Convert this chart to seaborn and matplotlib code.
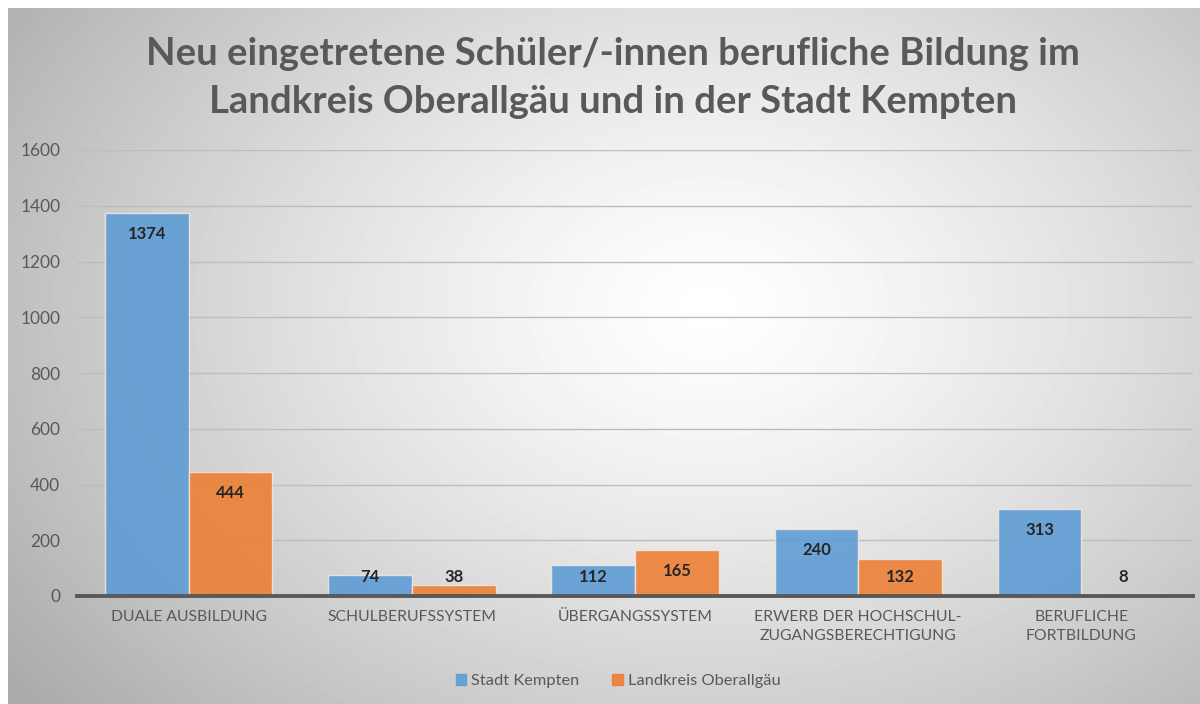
import numpy as np
import pandas as pd
import matplotlib
matplotlib.use("Agg")
import matplotlib.pyplot as plt
import seaborn as sns

categories = ["DUALE AUSBILDUNG", "SCHULBERUFSSYSTEM", "ÜBERGANGSSYSTEM",
              "ERWERB DER HOCHSCHUL-\nZUGANGSBERECHTIGUNG", "BERUFLICHE\nFORTBILDUNG"]
kempten = [1374, 74, 112, 240, 313]
oberallgaeu = [444, 38, 165, 132, 8]
series = ["Stadt Kempten", "Landkreis Oberallgäu"]
colors = ["#5B9BD5", "#ED7D31"]
yticks = [0, 200, 400, 600, 800, 1000, 1200, 1400, 1600]

df = pd.DataFrame({
    "Kategorie": categories * 2,
    "Wert": kempten + oberallgaeu,
    "Serie": [series[0]] * 5 + [series[1]] * 5,
})

sns.set_style("white")
plt.rcParams['font.family'] = ['Lato', 'DejaVu Sans']
grey = "#595959"

fig = plt.figure(figsize=(12, 7.04), dpi=100)
fig.patch.set_facecolor("white")

# radial gradient background like the Excel chart area
bg = fig.add_axes([8 / 1200, 0, 1192 / 1200, 696 / 704])
yy, xx = np.mgrid[0:696, 0:1192]
r = np.sqrt(((xx - 700) / 720.0) ** 2 + ((yy - 300) / 520.0) ** 2)
shade = 1.0 - 0.26 * np.clip(r, 0, 1.2) ** 1.3
bg.imshow(shade, cmap="gray", vmin=0, vmax=1, aspect="auto", interpolation="bilinear")
bg.axis("off")

ax = fig.add_axes([77 / 1200, 1 - 596 / 704, 1116 / 1200, 446 / 704])
ax.patch.set_alpha(0)
sns.barplot(data=df, x="Kategorie", y="Wert", hue="Serie", palette=colors,
            width=0.75, alpha=0.88, edgecolor="#f4e6dc", linewidth=1.0,
            saturation=1, ax=ax, zorder=3)

ax.set_ylim(0, 1600)
ax.set_yticks(yticks)
ax.set_xlim(-0.5, 4.5)
ax.yaxis.grid(True, color="#bdbdbd", linewidth=1, zorder=0)
ax.set_axisbelow(True)
for s in ["top", "right", "left"]:
    ax.spines[s].set_visible(False)
ax.spines["bottom"].set_color(grey)
ax.spines["bottom"].set_linewidth(2.8)
ax.spines["bottom"].set_zorder(5)
ax.tick_params(axis="y", length=0, pad=12, labelsize=12.5, labelcolor=grey)
ax.tick_params(axis="x", length=0, pad=10, labelsize=11.3, labelcolor=grey)
ax.set_xlabel("")
ax.set_ylabel("")
for lab in ax.get_xticklabels():
    lab.set_linespacing(1.5)

# data labels, inside end
for cont in ax.containers:
    for bar in cont:
        h = bar.get_height()
        x = bar.get_x() + bar.get_width() / 2
        ax.text(x, max(h - 76, 69), f"{int(round(h))}", ha="center", va="center",
                fontsize=12, fontweight="bold", color="#262626", zorder=6)

ax.legend_.remove()
handles = [plt.Rectangle((0, 0), 1, 1, color=c, alpha=0.88) for c in colors]
fig.legend(handles, series, loc="center", bbox_to_anchor=(0.515, 1 - 681 / 704),
           ncol=2, frameon=False, fontsize=11.8, labelcolor=grey,
           handlelength=0.65, handleheight=0.65, handletextpad=0.3, columnspacing=2.0)

fig.text(0.511, 1 - 78 / 704,
         "Neu eingetretene Schüler/-innen berufliche Bildung im\nLandkreis Oberallgäu und in der Stadt Kempten",
         ha="center", va="center", fontsize=27.5, fontweight="bold", color=grey,
         linespacing=1.5)

fig.savefig("out.png", dpi=100)
